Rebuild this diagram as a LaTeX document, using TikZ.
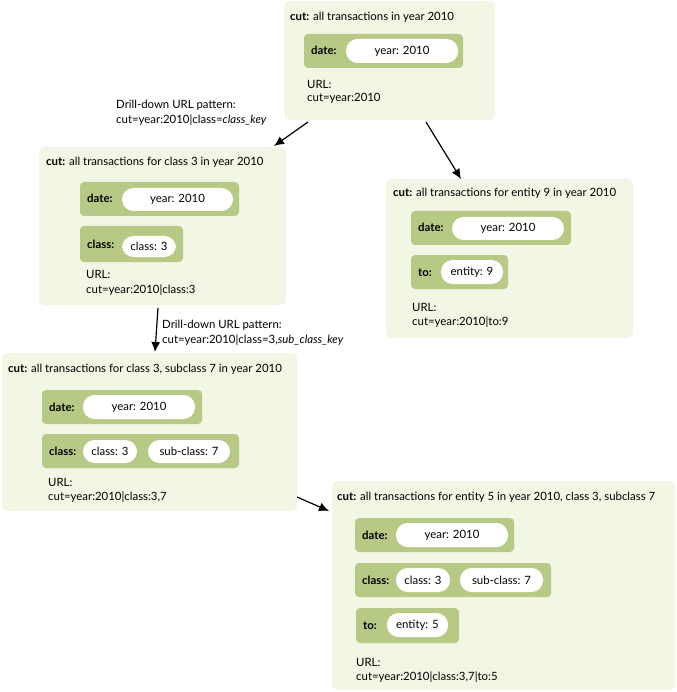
\documentclass[tikz,border=0pt]{standalone}
\usepackage{fontspec}
\setmainfont{Lato}
\usetikzlibrary{arrows.meta}
\definecolor{boxbg}{HTML}{F2F6E5}
\definecolor{grp}{HTML}{B7CA85}
\tikzset{
  box/.style={fill=boxbg, rounded corners=5pt},
  grpbox/.style={fill=grp, rounded corners=4pt},
  pill/.style={fill=white, rounded corners=11.5pt},
  txt/.style={anchor=base west, inner sep=0pt, font=\fontsize{11.4}{13}\selectfont},
  lbl/.style={anchor=base west, inner sep=0pt, font=\fontsize{11.4}{13}\selectfont\bfseries},
  ptxt/.style={inner sep=0pt, font=\fontsize{11.4}{13}\selectfont},
  arr/.style={-{Latex[length=10pt,width=9pt]}, line width=1.2pt},
}
\newcommand{\grp}[6]{% name, x1,y1,x2,y2, label
  \path[grpbox] (#2,#3) rectangle (#4,#5);
  \node[lbl] (#1) at (#2+7,{(#3+#5)/2+4}) {#6};
}
\newcommand{\pl}[6]{% name, x1,y1,x2,y2, text
  \path[pill] (#2,#3) rectangle (#4,#5);
  \node[ptxt] (#1) at ({(#2+#4)/2},{(#3+#5)/2}) {#6};
}
\begin{document}
\begin{tikzpicture}[x=1pt,y=-1pt]
\useasboundingbox (0,0) rectangle (676,692);
% Box A
\path[box] (284,1) rectangle (495,120);
\node[txt] (At) at (290,21) {\textbf{cut:} all transactions in year 2010};
\grp{Ad}{304}{34}{463}{68}{date:}
\pl{Adp}{346}{39}{458}{63}{year: 2010}
\node[txt] (Au) at (307,89) {URL:};
\node[txt] (Ac) at (307,102) {cut=year:2010};
% Box B
\path[box] (39,147) rectangle (286,305);
\node[txt] (Bt) at (46,166) {\textbf{cut:} all transactions for class 3 in year 2010};
\grp{Bd}{80}{182}{239}{216}{date:}
\pl{Bdp}{122}{188}{233}{211}{year: 2010}
\grp{Bc}{80}{226}{183}{262}{class:}
\pl{Bcp}{122}{236}{176}{257}{class: 3}
\node[txt] (Bu) at (86,278) {URL:};
\node[txt] (Bc2) at (86,293) {cut=year:2010|class:3};
% Box C
\path[box] (386,179) rectangle (633,338);
\node[txt] (Ct) at (393,197) {\textbf{cut:} all transactions for entity 9 in year 2010};
\grp{Cd}{411}{211}{571}{245}{date:}
\pl{Cdp}{452}{217}{564}{240}{year: 2010}
\grp{Ce}{411}{255}{508}{289}{to:}
\pl{Cep}{441}{260}{503}{284}{entity: 9}
\node[txt] (Cu) at (412,311) {URL:};
\node[txt] (Cc) at (412,325) {cut=year:2010|to:9};
% Box D
\path[box] (2,353) rectangle (297,511);
\node[txt] (Dt) at (8,372) {\textbf{cut:} all transactions for class 3, subclass 7 in year 2010};
\grp{Dd}{42}{390}{202}{424}{date:}
\pl{Ddp}{83}{395}{195}{419}{year: 2010}
\grp{Dc}{42}{434}{239}{468}{class:}
\pl{Dcp}{83}{440}{137}{463}{class: 3}
\pl{Dsp}{148}{440}{230}{463}{sub-class: 7}
\node[txt] (Du) at (48,486) {URL:};
\node[txt] (Dc2) at (48,500) {cut=year:2010|class:3,7};
% Box E
\path[box] (332,481) rectangle (675,690);
\node[txt] (Et) at (337,500) {\textbf{cut:} all transactions for entity 5 in year 2010, class 3, subclass 7};
\grp{Ed}{355}{518}{514}{552}{date:}
\pl{Edp}{396}{523}{508}{547}{year: 2010}
\grp{Ec}{355}{563}{551}{597}{class:}
\pl{Ecp}{396}{568}{450}{592}{class: 3}
\pl{Esp}{460}{568}{543}{592}{sub-class: 7}
\grp{Ee}{356}{608}{459}{643}{to:}
\pl{Eep}{387}{613}{448}{637}{entity: 5}
\node[txt] (Eu) at (356,666) {URL:};
\node[txt] (Ec2) at (356,680) {cut=year:2010|class:3,7|to:5};
% Drill-down labels
\node[txt] (L1a) at (116,109) {Drill-down URL pattern:};
\node[txt] (L1b) at (116,124) {cut=year:2010|class=\textit{class\_key}};
\node[txt] (L2a) at (162,328) {Drill-down URL pattern:};
\node[txt] (L2b) at (162,343) {cut=year:2010|class=3,\textit{sub\_class\_key}};
% Arrows
\coordinate (a1s) at (308,122); \coordinate (a1e) at (274,146);
\coordinate (a2s) at (426,122); \coordinate (a2e) at (461,179);
\coordinate (a3s) at (158,308); \coordinate (a3e) at (155,352);
\coordinate (a4s) at (297,497); \coordinate (a4e) at (329,511);
\draw[arr] (a1s) -- (a1e);
\draw[arr] (a2s) -- (a2e);
\draw[arr] (a3s) -- (a3e);
\draw[arr] (a4s) -- (a4e);
\end{tikzpicture}
\end{document}
